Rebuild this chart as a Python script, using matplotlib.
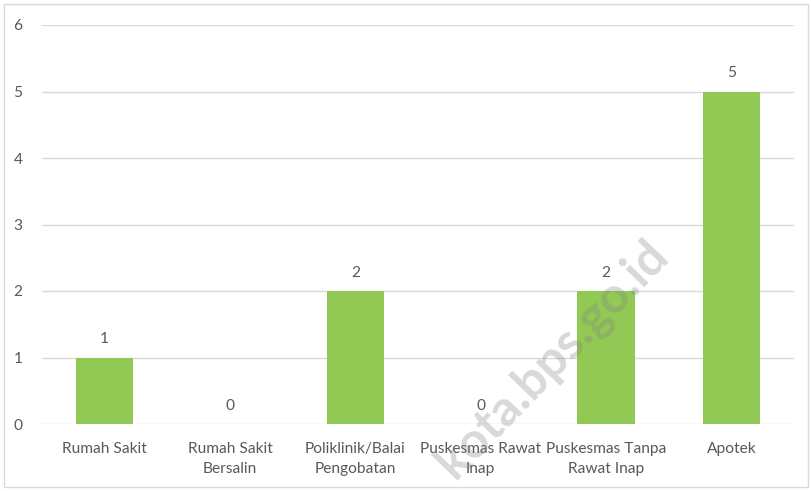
import matplotlib.pyplot as plt
from matplotlib.patches import Rectangle

# data
kategori = ["Rumah Sakit", "Rumah Sakit\nBersalin", "Poliklinik/Balai\nPengobatan",
            "Puskesmas Rawat\nInap", "Puskesmas Tanpa\nRawat Inap", "Apotek"]
jumlah = [1, 0, 2, 0, 2, 5]
yticks = [0, 1, 2, 3, 4, 5, 6]

hijau = "#92c955"
abu_teks = "#595959"
abu_grid = "#d9d9d9"

plt.rcParams['font.family'] = ['Lato', 'DejaVu Sans']

fig = plt.figure(figsize=(8.12, 4.91), dpi=100)
ax = fig.add_axes([42/812, 1 - 424/491, (794 - 42)/812, (424 - 25)/491])

x = range(len(kategori))
bars = ax.bar(x, jumlah, width=0.46, color=hijau, zorder=2)

ax.set_xlim(-0.5, len(kategori) - 0.5)
ax.set_ylim(0, 6)
ax.set_yticks(yticks)
ax.set_xticks(list(x))
ax.set_xticklabels(kategori, linespacing=1.5)
ax.grid(axis='y', color=abu_grid, linewidth=1, zorder=0)
for s in ax.spines.values():
    s.set_visible(False)
ax.tick_params(axis='both', length=0, colors=abu_teks, labelsize=11.2)
ax.tick_params(axis='y', pad=14)
ax.tick_params(axis='x', pad=13)

for b, v in zip(bars, jumlah):
    ax.annotate(str(v), (b.get_x() + b.get_width() / 2, v), xytext=(0, 8),
                textcoords='offset points', ha='center', va='bottom',
                color=abu_teks, fontsize=11.2)

# watermark
fig.text(0.68, 0.27, "kota.bps.go.id", rotation=46, fontsize=36, fontweight='bold',
         color='#808080', alpha=0.3, ha='center', va='center', zorder=5)

# outer border
fig.patches.append(Rectangle((4/812, 4/491), 804/812, 483/491, transform=fig.transFigure,
                             fill=False, edgecolor='#d9d9d9', linewidth=1))

fig.savefig("out.png", dpi=100)
